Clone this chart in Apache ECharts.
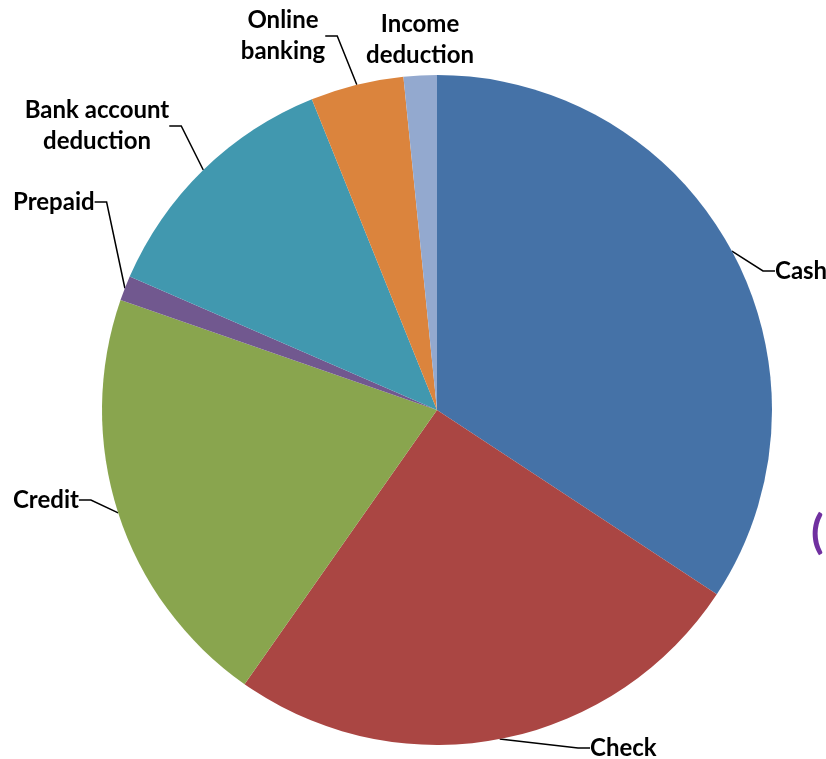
<!DOCTYPE html>
<html>
<head>
<meta charset="utf-8">
<script src="https://cdn.jsdelivr.net/npm/echarts@6/dist/echarts.min.js"></script>
<style>
  html, body { margin: 0; padding: 0; background: #fff; }
  #chart { width: 826px; height: 759px; }
</style>
</head>
<body>
<div id="chart"></div>
<script>
// 数据（从图上估读，百分比）
var categories = ['Cash', 'Check', 'Credit', 'Prepaid', 'Bank account\ndeduction', 'Online\nbanking', 'Income\ndeduction'];
var shares = [34.3, 25.5, 20.6, 1.2, 12.4, 4.5, 1.6];
var colors = ['#4572A7', '#AA4643', '#89A54E', '#71588F', '#4198AF', '#DB843D', '#93A9CF'];

// 标签放置位置
var labelSpots = [
    { x: 775, y: 271, align: 'left' },
    { x: 590, y: 748, align: 'left' },
    { x: 13, y: 500, align: 'left' },
    { x: 13, y: 202, align: 'left' },
    { x: 97, y: 126, align: 'center' },
    { x: 283, y: 36, align: 'center' },
    { x: 420, y: 40, align: 'center' }
];

var chart = echarts.init(document.getElementById('chart'));

var pieData = categories.map(function (name, i) {
    var item = {
        name: name,
        value: shares[i],
        itemStyle: { color: colors[i] }
    };
    if (i == 6) {
        item.labelLine = { show: false }; // 没有引线
    }
    return item;
});

var option = {
    animation: false,
    series: [{
        type: 'pie',
        center: [437, 410],
        radius: 335,
        startAngle: 90,
        clockwise: true,
        data: pieData,
        label: {
            show: true,
            position: 'outside',
            color: '#000',
            fontFamily: 'Lato',
            fontWeight: 'bold',
            fontSize: 24,
            lineHeight: 31,
            overflow: 'none',
            formatter: '{b}'
        },
        labelLine: {
            show: true,
            length: 15,
            length2: 12,
            lineStyle: { color: '#000', width: 1.5 }
        },
        labelLayout: function (params) {
            var s = labelSpots[params.dataIndex];
            return {
                x: s.x,
                y: s.y,
                align: s.align,
                verticalAlign: 'middle',
                hideOverlap: false
            };
        },
        emphasis: { disabled: true }
    }],
    graphic: [{
        type: 'text',
        left: 811,
        top: 510,
        style: { text: '(', fill: '#7030A0', fontSize: 46, fontWeight: 'bold', fontFamily: 'Lato' }
    }]
};

chart.setOption(option);
</script>
</body>
</html>
